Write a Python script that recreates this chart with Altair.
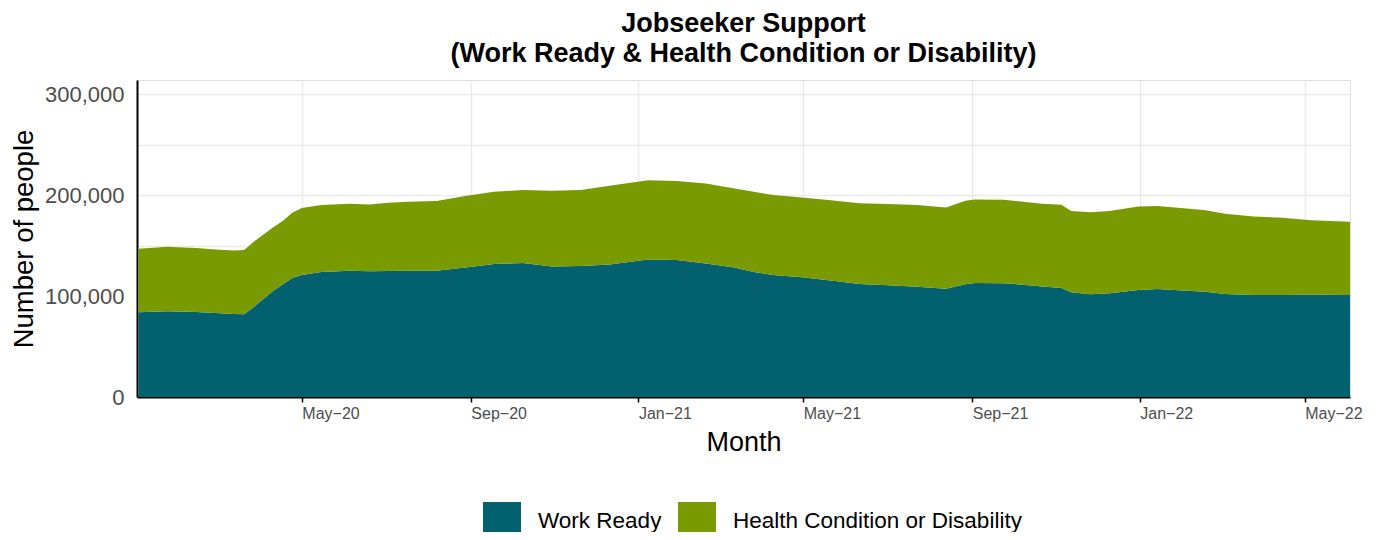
import altair as alt
import pandas as pd

# Weekly reference dates
months = [
    "2020-01-03", "2020-01-24", "2020-02-14", "2020-02-28", "2020-03-13", "2020-03-20",
    "2020-03-27", "2020-04-10", "2020-04-17", "2020-04-24", "2020-05-01", "2020-05-15",
    "2020-06-05", "2020-06-19", "2020-07-03", "2020-07-17", "2020-08-07", "2020-08-28",
    "2020-09-18", "2020-10-09", "2020-10-30", "2020-11-20", "2020-12-11", "2021-01-08",
    "2021-01-29", "2021-02-19", "2021-03-12", "2021-03-26", "2021-04-09", "2021-04-30",
    "2021-05-21", "2021-06-11", "2021-07-02", "2021-07-23", "2021-08-13", "2021-08-27",
    "2021-09-03", "2021-09-24", "2021-10-08", "2021-10-22", "2021-11-05", "2021-11-12",
    "2021-11-26", "2021-12-10", "2021-12-31", "2022-01-14", "2022-02-04", "2022-02-18",
    "2022-03-04", "2022-03-25", "2022-04-15", "2022-05-06", "2022-06-03",
]

work_ready = [
    83900, 84900, 84200, 83200, 82200, 81900, 89100, 105000, 111400, 117800,
    120800, 123800, 125000, 124500, 124800, 125000, 125000, 128200, 131700, 132700,
    129200, 129700, 131200, 136300, 135600, 132200, 128200, 123800, 120800, 118500,
    115500, 111900, 110600, 109100, 107200, 111600, 112900, 112600, 111200, 109400,
    107900, 103700, 101700, 102700, 105900, 106900, 105200, 104300, 102000, 101000,
    101000, 101300, 101000,
]

health_condition = [
    62900, 63900, 63300, 63000, 63000, 63600, 64700, 63000, 62900, 64700,
    66300, 66300, 66400, 66300, 67600, 68400, 69100, 70800, 71600, 72300,
    75100, 75300, 78000, 78300, 78300, 79400, 78400, 79500, 79200, 79200,
    79500, 79900, 80500, 81000, 80600, 82800, 82800, 82700, 82200, 82000,
    82500, 80500, 81200, 81500, 82900, 82200, 81600, 80800, 79500, 77900,
    76500, 73900, 72600,
]

series_names = ["Work Ready", "Health Condition or Disability"]
series_colors = ["#03606F", "#7A9A01"]

tick_dates = ["2020-05-01", "2020-09-01", "2021-01-01", "2021-05-01",
              "2021-09-01", "2022-01-01", "2022-05-01"]
y_ticks = [0, 50000, 100000, 150000, 200000, 250000, 300000]

rows = []
for d, w, h in zip(months, work_ready, health_condition):
    rows.append({"month": d, "group": series_names[0], "value": w, "stack_order": 0})
    rows.append({"month": d, "group": series_names[1], "value": h, "stack_order": 1})
df = pd.DataFrame(rows)


def ms(s):
    return int(pd.Timestamp(s, tz="UTC").value // 1_000_000)


x_domain = [ms("2020-01-02"), ms("2022-06-03")]
tick_ms = [ms(t) for t in tick_dates]

FONT = "Liberation Sans"

chart = alt.Chart(df).mark_area(interpolate="linear", opacity=1).encode(
    x=alt.X(
        "month:T",
        scale=alt.Scale(type="utc", domain=x_domain, nice=False),
        axis=alt.Axis(
            title="Month",
            values=tick_ms,
            format="%b\u2212%y",
            labelAlign="left",
            labelFontSize=16,
            labelColor="#4D4D4D",
            labelPadding=3,
            labelFont=FONT,
            tickColor="black",
            tickWidth=1.5,
            tickSize=5,
            domainColor="black",
            domainWidth=2,
            grid=True,
            gridColor="#EBEBEB",
            gridWidth=1.5,
            titleFontSize=27,
            titleFontWeight="normal",
            titleColor="black",
            titleFont=FONT,
            titlePadding=8,
        ),
    ),
    y=alt.Y(
        "value:Q",
        stack="zero",
        scale=alt.Scale(domain=[0, 314000], nice=False),
        axis=alt.Axis(
            title="Number of people",
            values=y_ticks,
            labelExpr="datum.value % 100000 === 0 ? format(datum.value, ',') : ''",
            labelFontSize=22,
            labelColor="#4D4D4D",
            labelPadding=13,
            labelFont=FONT,
            ticks=False,
            domainColor="black",
            domainWidth=2,
            grid=True,
            gridColor="#EBEBEB",
            gridWidth=1.5,
            titleFontSize=27.5,
            titleFontWeight="normal",
            titleColor="black",
            titleFont=FONT,
            titlePadding=6,
        ),
    ),
    color=alt.Color(
        "group:N",
        scale=alt.Scale(domain=series_names, range=series_colors),
        legend=alt.Legend(
            title=None,
            orient="none",
            legendX=346,
            legendY=422,
            direction="horizontal",
            symbolType="square",
            symbolSize=1444,
            symbolStrokeWidth=0,
            symbolOpacity=1,
            labelFontSize=22.5,
            labelColor="black",
            labelFont=FONT,
            labelOffset=17,
            labelLimit=0,
            columnPadding=16,
        ),
    ),
    order=alt.Order("stack_order:Q", sort="ascending"),
).properties(
    width=1213,
    height=317,
    autosize=alt.AutoSizeParams(type="none"),
    padding={"left": 129, "top": 72, "right": 22, "bottom": 135},
    title=alt.Title(
        ["Jobseeker Support", "(Work Ready & Health Condition or Disability)"],
        fontSize=27,
        fontWeight="bold",
        font=FONT,
        color="black",
        anchor="middle",
        frame="group",
        lineHeight=30,
        offset=12,
    ),
).configure_view(stroke=None).configure(background="white")

chart.save("out.html", embed_options={"renderer": "svg", "actions": False})
